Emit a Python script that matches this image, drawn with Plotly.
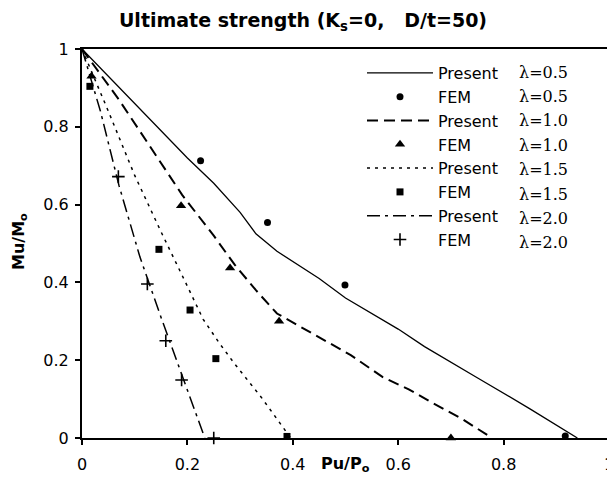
import plotly.graph_objects as go

# ---- data ----
pres05_x = [0, 0.10, 0.20, 0.25, 0.30, 0.33, 0.37, 0.45, 0.50, 0.60, 0.65, 0.75, 0.85, 0.94]
pres05_y = [1, 0.86, 0.72, 0.655, 0.58, 0.525, 0.48, 0.41, 0.36, 0.28, 0.235, 0.155, 0.075, 0]
fem05_x = [0.225, 0.352, 0.499, 0.917]
fem05_y = [0.713, 0.554, 0.393, 0.005]

pres10_x = [0, 0.07, 0.19, 0.25, 0.29, 0.33, 0.37, 0.45, 0.51, 0.57, 0.62, 0.667, 0.72, 0.778]
pres10_y = [1, 0.87, 0.625, 0.52, 0.445, 0.38, 0.32, 0.26, 0.213, 0.157, 0.125, 0.089, 0.05, 0]
fem10_x = [0.018, 0.188, 0.281, 0.374, 0.70]
fem10_y = [0.93, 0.597, 0.437, 0.30, 0.0]

pres15_x = [0, 0.05, 0.10, 0.15, 0.20, 0.23, 0.26, 0.29, 0.34, 0.396]
pres15_y = [1, 0.84, 0.675, 0.53, 0.39, 0.305, 0.245, 0.19, 0.105, 0]
fem15_x = [0.015, 0.146, 0.205, 0.254, 0.389]
fem15_y = [0.904, 0.485, 0.329, 0.204, 0.004]

pres20_x = [0, 0.035, 0.07, 0.11, 0.15, 0.175, 0.21, 0.233]
pres20_y = [1, 0.84, 0.65, 0.465, 0.31, 0.215, 0.085, 0]
fem20_x = [0.069, 0.124, 0.159, 0.189, 0.25]
fem20_y = [0.672, 0.396, 0.25, 0.149, 0.0]

lambdas = ["0.5", "0.5", "1.0", "1.0", "1.5", "1.5", "2.0", "2.0"]
tick_vals = [0, 0.2, 0.4, 0.6, 0.8, 1]
tick_text = ["0", "0.2", "0.4", "0.6", "0.8", "1"]

BLK = "black"
SANS = "DejaVu Sans, Arial, sans-serif"
SERIF = "DejaVu Serif, Times New Roman, serif"

fig = go.Figure()

def add_line(x, y, dash, width):
    fig.add_trace(go.Scatter(x=x, y=y, mode="lines", name="Present",
                             line=dict(color=BLK, width=width, dash=dash),
                             cliponaxis=False))

def add_pts(x, y, symbol, size, lw=0):
    fig.add_trace(go.Scatter(x=x, y=y, mode="markers", name="FEM",
                             marker=dict(color=BLK, symbol=symbol, size=size,
                                         line=dict(color=BLK, width=lw)),
                             cliponaxis=False))

add_line(pres05_x, pres05_y, "solid", 1.3)
add_pts(fem05_x, fem05_y, "circle", 7)
add_line(pres10_x, pres10_y, "11px,6px", 2)
add_pts(fem10_x, fem10_y, "triangle-up", 9)
add_line(pres15_x, pres15_y, "3px,5px", 1.5)
add_pts(fem15_x, fem15_y, "square", 7)
add_line(pres20_x, pres20_y, "13px,5px,3px,5px", 1.5)
add_pts(fem20_x, fem20_y, "cross-thin", 9, 1.6)

# page body has an 8px margin: figure is drawn 8px right/down of the window origin
OFF = 8
W, H = 615 - OFF, 479 - OFF
# plot-area geometry in window pixels (used for placing text only)
L, R, T, B = 82, 609, 49, 438
PW, PH = R - L, B - T

def px(x):
    return (x - L) / PW

def py(y):
    return (B - y) / PH

# lambda labels beside the legend rows
row0 = 72
step = 24.4
for i, lam in enumerate(lambdas):
    fig.add_annotation(x=px(517), y=py(row0 + i * step), xref="paper", yref="paper",
                       text="λ=" + lam, showarrow=False, xanchor="left", yanchor="middle",
                       font=dict(family=SERIF, size=16, color=BLK))

# axis titles as annotations
fig.add_annotation(x=px(345), y=py(465), xref="paper", yref="paper",
                   text="<b>Pu/P<sub>o</sub></b>", showarrow=False,
                   xanchor="center", yanchor="middle",
                   font=dict(family=SANS, size=16, color=BLK))
fig.add_annotation(x=px(19), y=py(242), xref="paper", yref="paper",
                   text="<b>Mu/M<sub>o</sub></b>", showarrow=False, textangle=-90,
                   xanchor="center", yanchor="middle",
                   font=dict(family=SANS, size=16, color=BLK))

axis_common = dict(range=[0, 1], tickvals=tick_vals, ticktext=tick_text,
                   showgrid=False, zeroline=False, showline=True, linecolor=BLK,
                   linewidth=2, mirror=True, ticks="outside", ticklen=5,
                   tickwidth=1.5, tickcolor=BLK, automargin=False,
                   tickfont=dict(family=SANS, size=16, color=BLK))

fig.update_layout(
    width=W, height=H,
    margin=dict(l=L - OFF, r=(615 - R), t=T - OFF, b=(479 - B), autoexpand=False),
    paper_bgcolor="white", plot_bgcolor="white",
    title=dict(text="<b>Ultimate strength (K<sub>s</sub>=0,   D/t=50)</b>",
               x=px(303), xref="paper", xanchor="center",
               y=1 - (20 - OFF) / H, yref="container", yanchor="middle",
               font=dict(family=SANS, size=19, color=BLK)),
    xaxis=dict(**axis_common, ticklabelstandoff=6),
    yaxis=dict(**axis_common, ticklabelstandoff=3),
    showlegend=True,
    legend=dict(x=px(362), y=py(56), xanchor="left", yanchor="top",
                bgcolor="rgba(0,0,0,0)", borderwidth=0, itemwidth=66,
                font=dict(family=SANS, size=16, color=BLK),
                tracegroupgap=0),
)

fig.write_html("out.html")
